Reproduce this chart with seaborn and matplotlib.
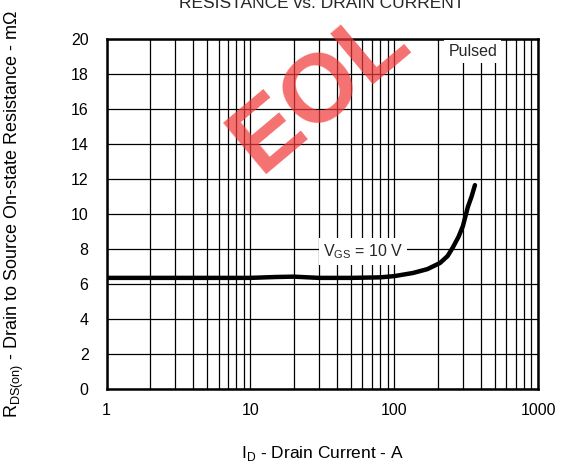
import numpy as np
import pandas as pd
import matplotlib
matplotlib.use("Agg")
import matplotlib.pyplot as plt
import seaborn as sns
from matplotlib.ticker import FixedLocator, FixedFormatter, LogLocator, NullFormatter

# curve (VGS = 10 V, pulsed)
drain_current = [1, 2, 5, 10, 15, 20, 30, 50, 80, 100, 135, 170, 208, 235, 256, 280, 300, 325, 345, 364]
rds_on = [6.35, 6.35, 6.35, 6.35, 6.4, 6.42, 6.35, 6.35, 6.38, 6.45, 6.63, 6.85, 7.2, 7.6, 8.1, 8.7, 9.3, 10.4, 11.0, 11.65]

x_ticks = [1, 10, 100, 1000]
x_labels = ["1", "10", "100", "1000"]
y_ticks = [0, 2, 4, 6, 8, 10, 12, 14, 16, 18, 20]

sns.set_theme(style="white")
plt.rcParams['font.family'] = ['Liberation Sans', 'DejaVu Sans']

df = pd.DataFrame({"Id": drain_current, "Rds": rds_on})

fig = plt.figure(figsize=(5.64, 4.67), dpi=100)
ax = fig.add_axes([0.189, 0.167, 0.765, 0.7495])

sns.lineplot(data=df, x="Id", y="Rds", ax=ax, color="black", linewidth=3.2, zorder=4)

ax.set_xscale("log")
ax.set_xlim(1, 1000)
ax.set_ylim(0, 20)
ax.xaxis.set_major_locator(FixedLocator(x_ticks))
ax.xaxis.set_major_formatter(FixedFormatter(x_labels))
ax.xaxis.set_minor_locator(LogLocator(base=10, subs=np.arange(2, 10)))
ax.xaxis.set_minor_formatter(NullFormatter())
ax.yaxis.set_major_locator(FixedLocator(y_ticks))

ax.grid(True, which="major", axis="both", color="black", linewidth=0.9)
ax.grid(True, which="minor", axis="x", color="black", linewidth=0.9)
ax.set_axisbelow(True)
ax.tick_params(axis="both", which="both", length=0, labelsize=11.5, colors="black")
ax.tick_params(axis="y", pad=13)
ax.tick_params(axis="x", pad=10)
for sp in ax.spines.values():
    sp.set_color("black")
    sp.set_linewidth(1.8)

ax.set_xlabel("I$_\\mathregular{D}$ - Drain Current - A", fontsize=12.5, color="black", labelpad=19)
ax.set_ylabel("R$_\\mathregular{DS(on)}$ - Drain to Source On-state Resistance - m\u03a9",
              fontsize=13, color="black", labelpad=32)

ax.text(60.6, 7.85, "V$_\\mathregular{GS}$ = 10 V", fontsize=11.5, ha="center", va="center", zorder=5,
        bbox=dict(facecolor="white", edgecolor="none", pad=3))
ax.text(352, 19.3, "Pulsed", fontsize=11.5, ha="center", va="center", zorder=5,
        bbox=dict(facecolor="white", edgecolor="none", pad=3))

fig.text(0.571, 0.983, "RESISTANCE vs. DRAIN CURRENT", fontsize=12.5, ha="center", va="baseline")

# EOL watermark
fig.text(0.568, 0.805, "EOL", fontsize=70, fontweight="bold", color="#f23a3a", alpha=0.72,
         rotation=40, ha="center", va="center", zorder=10)

fig.savefig("out.png", dpi=100)
